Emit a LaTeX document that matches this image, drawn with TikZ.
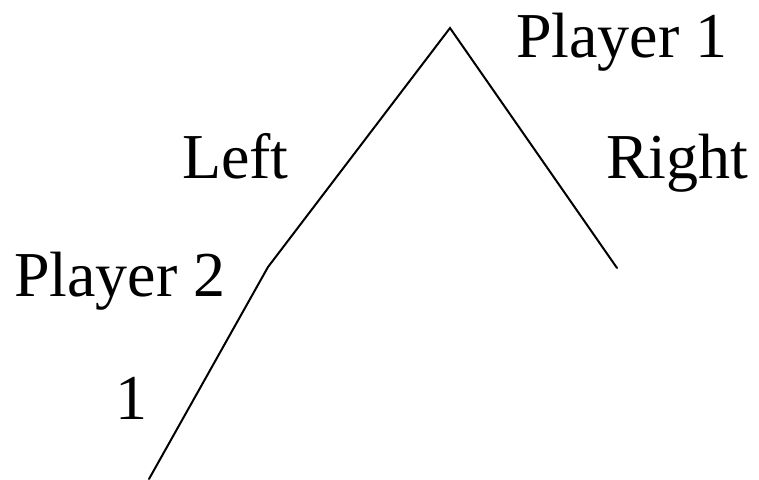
\documentclass[tikz,border=0pt]{standalone}
\usepackage{fontspec}
\setmainfont{Liberation Serif}
\begin{document}
\begin{tikzpicture}[x=1pt,y=-1pt,
  lbl/.style={anchor=base west,inner sep=0pt,outer sep=0pt,font=\fontsize{64}{64}\selectfont},
  edge/.style={line width=2pt,line cap=round}]
\useasboundingbox (0,0) rectangle (759,479);
\coordinate (root) at (450,28);
\coordinate (p2) at (268,267);
\coordinate (rend) at (617,268);
\coordinate (bend) at (149,479);
\draw[edge] (p2) -- (root) -- (rend);
\draw[edge] (p2) -- (bend);
\node[lbl] (t1) at (516,57) {Player 1};
\node[lbl] (tl) at (182,178) {Left};
\node[lbl] (tr) at (606,178) {Right};
\node[lbl] (t2) at (14,296) {Player 2};
\node[lbl] (tone) at (115,419) {1};
\end{tikzpicture}
\end{document}
